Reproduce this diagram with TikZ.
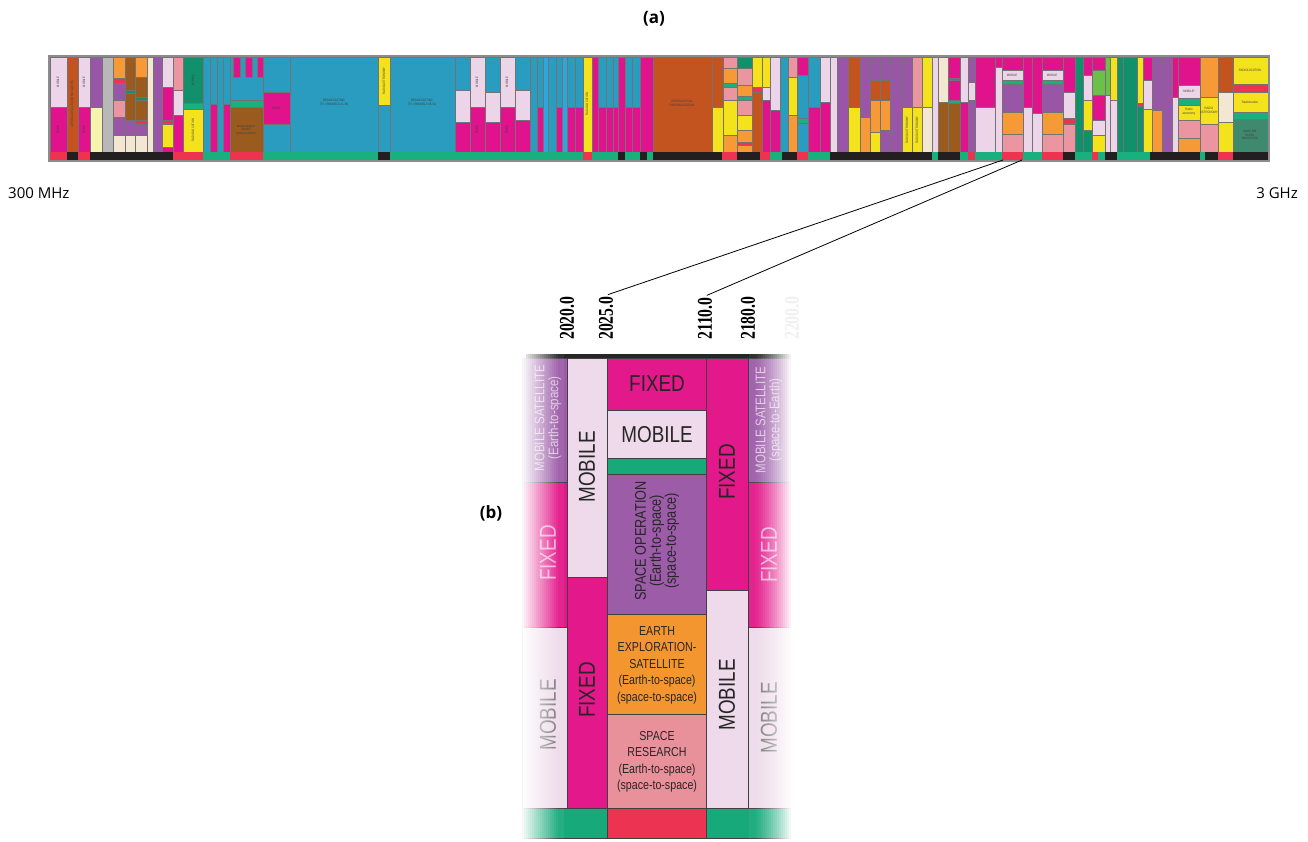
\documentclass[tikz,border=0pt]{standalone}
\usepackage{fontspec}
\setmainfont{Open Sans}
\newfontfamily\condsans[FakeStretch=0.82]{Liberation Sans}
\newfontfamily\condserif[FakeStretch=0.75]{Liberation Serif}
% band colours
\definecolor{FX}{HTML}{E0128C}
\definecolor{MB}{HTML}{ECD5E8}
\definecolor{PU}{HTML}{9A56A6}
\definecolor{TL}{HTML}{2A9CC0}
\definecolor{BL}{HTML}{2BA6DE}
\definecolor{AR}{HTML}{C4541F}
\definecolor{YL}{HTML}{F4E31C}
\definecolor{GN}{HTML}{19B07E}
\definecolor{DG}{HTML}{12906C}
\definecolor{OR}{HTML}{F59A36}
\definecolor{PK}{HTML}{EA95A0}
\definecolor{BR}{HTML}{9A5B1F}
\definecolor{BG}{HTML}{F3E7D2}
\definecolor{GY}{HTML}{B8B8B8}
\definecolor{RD}{HTML}{EE3350}
\definecolor{MG}{HTML}{3F8A6F}
\definecolor{LG}{HTML}{6CC04A}
\definecolor{LY}{HTML}{F7F2B0}
\definecolor{BK}{HTML}{231F20}
% panel b colours
\definecolor{bFX}{HTML}{E3188A}
\definecolor{bMB}{HTML}{EEDAEA}
\definecolor{bPU}{HTML}{9C5CA8}
\definecolor{bOR}{HTML}{F4962F}
\definecolor{bPK}{HTML}{E9919A}
\definecolor{bGN}{HTML}{17A97A}
\definecolor{bRD}{HTML}{EC3352}
\tikzset{
  bcell/.style={draw=black!55, line width=0.3pt},
  tin/.style={font=\condsans\fontsize{3.3}{3.8}\selectfont, text=black!75, align=center, inner sep=0pt},
  pcell/.style={draw=black!75, line width=0.7pt},
  plab/.style={font=\condsans\fontsize{23}{25}\selectfont, text=black!85, align=center, inner sep=0pt},
  pmid/.style={font=\condsans\fontsize{15.5}{15}\selectfont, text=black!85, align=center, inner sep=0pt},
  psmall/.style={font=\condsans\fontsize{13}{16.5}\selectfont, text=black!85, align=center, inner sep=0pt},
  pfaint/.style={font=\condsans\fontsize{14}{14}\selectfont, align=center, inner sep=0pt},
  freq/.style={font=\condserif\bfseries\fontsize{21}{21}\selectfont, rotate=90, anchor=west, inner sep=1pt},
  head/.style={font=\bfseries\fontsize{17}{20}\selectfont, inner sep=0pt},
  axislab/.style={font=\fontsize{15}{18}\selectfont, inner sep=0pt},
  conn/.style={draw=black, line width=0.8pt},
}
\newcommand\bc[5]{\path[bcell, fill=#1] (#2,#3) rectangle (#4,#5);}
\newcommand\bs[3]{\fill[#1] (#2,152) rectangle (#3,160);}
\begin{document}
\begin{tikzpicture}[x=1pt,y=-1pt]
\useasboundingbox (0,0) rectangle (1308,842);
\fill[white] (0,0) rectangle (1308,842);

% ---------------- panel (a): the band ----------------
\bc{MB}{50}{57}{67}{107}\bc{FX}{50}{107}{67}{152}
\bc{AR}{67}{57}{78}{152}
\bc{MB}{78}{57}{90}{107}\bc{FX}{78}{107}{90}{152}
\bc{PU}{90}{57}{102}{107}\bc{LY}{90}{107}{102}{152}
\bc{GY}{102}{57}{113}{152}
\bc{OR}{113}{57}{125}{78}\bc{RD}{113}{78}{125}{83}\bc{PU}{113}{83}{125}{100}\bc{PK}{113}{100}{125}{117}\bc{PU}{113}{117}{125}{135}\bc{BG}{113}{135}{125}{152}
\bc{BR}{125}{57}{135}{90}\bc{DG}{125}{90}{135}{93}\bc{BR}{125}{93}{135}{120}\bc{PU}{125}{120}{135}{135}\bc{BG}{125}{135}{135}{152}
\bc{OR}{135}{57}{147}{77}\bc{BR}{135}{77}{147}{97}\bc{DG}{135}{97}{147}{100}\bc{BR}{135}{100}{147}{120}\bc{RD}{135}{120}{147}{124}\bc{PU}{135}{124}{147}{135}\bc{BG}{135}{135}{147}{152}
\bc{BG}{147}{57}{153}{152}
\bc{PU}{153}{57}{162}{152}
\bc{MB}{162}{57}{173}{87}\bc{FX}{162}{87}{173}{120}\bc{RD}{162}{120}{173}{124}\bc{YL}{162}{124}{173}{147}\bc{FX}{162}{147}{173}{152}
\bc{PK}{173}{57}{183}{90}\bc{MB}{173}{90}{183}{115}\bc{FX}{173}{115}{183}{152}
\bc{DG}{183}{57}{203}{103}\bc{GN}{183}{103}{203}{109}\bc{YL}{183}{109}{203}{152}
\bc{TL}{203}{57}{210}{152}
\bc{TL}{210}{57}{217}{104}\bc{FX}{210}{104}{217}{152}
\bc{TL}{217}{57}{223}{152}
\bc{TL}{223}{57}{230}{104}\bc{FX}{223}{104}{230}{152}
\bc{TL}{230}{57}{263}{100}\bc{GN}{230}{100}{263}{107}\bc{BR}{230}{107}{263}{152}
\bc{FX}{233}{57}{240}{77}\bc{FX}{245}{57}{252}{77}\bc{FX}{257}{57}{263}{77}
\bc{TL}{263}{57}{290}{92}\bc{FX}{263}{92}{290}{124}\bc{TL}{263}{124}{290}{152}
\bc{TL}{290}{57}{378}{152}
\bc{YL}{378}{57}{390}{105}\bc{TL}{378}{105}{390}{152}
\bc{TL}{390}{57}{455}{152}
\bc{TL}{455}{57}{470}{90}\bc{MB}{455}{90}{470}{122}\bc{FX}{455}{122}{470}{152}
\bc{MB}{470}{57}{485}{107}\bc{FX}{470}{107}{485}{152}
\bc{TL}{485}{57}{500}{92}\bc{MB}{485}{92}{500}{122}\bc{FX}{485}{122}{500}{152}
\bc{MB}{500}{57}{515}{107}\bc{FX}{500}{107}{515}{152}
\bc{TL}{515}{57}{530}{90}\bc{MB}{515}{90}{530}{120}\bc{FX}{515}{120}{530}{152}
\bc{TL}{530}{57}{537}{152}
\bc{TL}{537}{57}{543}{107}\bc{FX}{537}{107}{543}{152}
\bc{BL}{543}{57}{548}{152}
\bc{TL}{548}{57}{556}{152}
\bc{TL}{556}{57}{562}{107}\bc{FX}{556}{107}{562}{152}
\bc{BL}{562}{57}{567}{152}
\bc{TL}{567}{57}{575}{107}\bc{FX}{567}{107}{575}{152}
\bc{TL}{575}{57}{583}{107}\bc{FX}{575}{107}{583}{152}
\bc{YL}{583}{57}{592}{152}
\bc{FX}{592}{57}{598}{152}
\bc{TL}{598}{57}{606}{107}\bc{FX}{598}{107}{606}{152}
\bc{TL}{606}{57}{613}{107}\bc{FX}{606}{107}{613}{152}
\bc{TL}{613}{57}{618}{107}\bc{FX}{613}{107}{618}{152}
\bc{FX}{618}{57}{625}{152}
\bc{TL}{625}{57}{632}{107}\bc{FX}{625}{107}{632}{152}
\bc{TL}{632}{57}{640}{107}\bc{FX}{632}{107}{640}{152}
\bc{FX}{640}{57}{653}{152}
\bc{AR}{653}{57}{712}{152}
\bc{AR}{712}{57}{723}{107}\bc{YL}{712}{107}{723}{152}
\bc{PK}{723}{57}{737}{68}\bc{OR}{723}{68}{737}{83}\bc{GN}{723}{83}{737}{87}\bc{PK}{723}{87}{737}{100}\bc{YL}{723}{100}{737}{135}\bc{OR}{723}{135}{737}{152}
\bc{DG}{737}{57}{752}{68}\bc{PK}{737}{68}{752}{85}\bc{OR}{737}{85}{752}{96}\bc{GN}{737}{96}{752}{100}\bc{PK}{737}{100}{752}{115}\bc{YL}{737}{115}{752}{130}\bc{OR}{737}{130}{752}{142}\bc{RD}{737}{142}{752}{145}\bc{OR}{737}{145}{752}{152}
\bc{YL}{752}{57}{762}{87}\bc{RD}{752}{87}{762}{92}\bc{AR}{752}{92}{762}{152}
\bc{YL}{762}{57}{770}{87}\bc{MB}{762}{87}{770}{100}\bc{FX}{762}{100}{770}{152}
\bc{MB}{770}{57}{780}{110}\bc{FX}{770}{110}{780}{152}
\bc{TL}{780}{57}{788}{152}
\bc{PK}{788}{57}{797}{77}\bc{YL}{788}{77}{797}{115}\bc{OR}{788}{115}{797}{152}
\bc{FX}{797}{57}{808}{75}\bc{TL}{797}{75}{808}{118}\bc{GN}{797}{118}{808}{123}\bc{TL}{797}{123}{808}{152}
\bc{TL}{808}{57}{820}{107}\bc{FX}{808}{107}{820}{152}
\bc{MB}{820}{57}{830}{102}\bc{FX}{820}{102}{830}{152}
\bc{MB}{830}{57}{837}{152}
\bc{PU}{837}{57}{848}{152}
\bc{AR}{848}{57}{860}{107}\bc{YL}{848}{107}{860}{152}
\bc{PU}{860}{57}{870}{117}\bc{OR}{860}{117}{870}{152}
\bc{PU}{870}{57}{880}{80}\bc{AR}{870}{80}{880}{100}\bc{OR}{870}{100}{880}{132}\bc{YL}{870}{132}{880}{152}
\bc{PU}{880}{57}{890}{80}\bc{AR}{880}{80}{890}{100}\bc{OR}{880}{100}{890}{130}\bc{PU}{880}{130}{890}{152}
\bc{PU}{890}{57}{902}{152}
\bc{PU}{902}{57}{912}{107}\bc{YL}{902}{107}{912}{152}
\bc{PK}{912}{57}{922}{107}\bc{YL}{912}{107}{922}{152}
\bc{YL}{922}{57}{932}{107}\bc{BG}{922}{107}{932}{152}
\bc{MB}{932}{57}{938}{152}
\bc{BG}{938}{57}{948}{102}\bc{BR}{938}{102}{948}{152}
\bc{FX}{948}{57}{960}{78}\bc{RD}{948}{78}{960}{80}\bc{FX}{948}{80}{960}{100}\bc{GN}{948}{100}{960}{103}\bc{BR}{948}{103}{960}{152}
\bc{MB}{960}{57}{968}{102}\bc{FX}{960}{102}{968}{152}
\bc{PU}{968}{57}{975}{82}\bc{MB}{968}{82}{975}{100}\bc{PU}{968}{100}{975}{152}
\bc{FX}{975}{57}{995}{107}\bc{MB}{975}{107}{995}{152}
\bc{FX}{995}{57}{1002}{67}\bc{MB}{995}{67}{1002}{152}
\bc{FX}{1002}{57}{1023}{70}\bc{MB}{1002}{70}{1023}{80}\bc{GN}{1002}{80}{1023}{84}\bc{PU}{1002}{84}{1023}{112}\bc{OR}{1002}{112}{1023}{134}\bc{PK}{1002}{134}{1023}{152}
\bc{FX}{1023}{57}{1032}{107}\bc{MB}{1023}{107}{1032}{152}
\bc{FX}{1032}{57}{1042}{113}\bc{MB}{1032}{113}{1042}{152}
\bc{FX}{1042}{57}{1063}{70}\bc{MB}{1042}{70}{1063}{80}\bc{GN}{1042}{80}{1063}{84}\bc{PU}{1042}{84}{1063}{112}\bc{OR}{1042}{112}{1063}{134}\bc{PK}{1042}{134}{1063}{152}
\bc{FX}{1063}{57}{1075}{92}\bc{MB}{1063}{92}{1075}{118}\bc{RD}{1063}{118}{1075}{124}\bc{PK}{1063}{124}{1075}{152}
\bc{DG}{1075}{57}{1083}{152}
\bc{FX}{1083}{57}{1092}{75}\bc{MB}{1083}{75}{1092}{100}\bc{YL}{1083}{100}{1092}{130}\bc{DG}{1083}{130}{1092}{152}
\bc{FX}{1092}{57}{1105}{70}\bc{LG}{1092}{70}{1105}{95}\bc{FX}{1092}{95}{1105}{120}\bc{MB}{1092}{120}{1105}{135}\bc{YL}{1092}{135}{1105}{152}
\bc{LG}{1105}{57}{1110}{95}\bc{MB}{1105}{95}{1110}{152}
\bc{YL}{1110}{57}{1117}{100}\bc{MB}{1110}{100}{1117}{152}
\bc{DG}{1117}{57}{1123}{152}
\bc{DG}{1123}{57}{1137}{152}
\bc{YL}{1137}{57}{1143}{103}\bc{RD}{1137}{103}{1143}{106}\bc{DG}{1137}{106}{1143}{152}
\bc{FX}{1143}{57}{1152}{80}\bc{MB}{1143}{80}{1152}{109}\bc{YL}{1143}{109}{1152}{152}
\bc{PU}{1152}{57}{1162}{110}\bc{OR}{1152}{110}{1162}{152}
\bc{PU}{1162}{57}{1172}{152}
\bc{FX}{1172}{57}{1178}{97}\bc{MB}{1172}{97}{1178}{152}
\bc{FX}{1178}{57}{1200}{85}\bc{MB}{1178}{85}{1200}{98}\bc{GN}{1178}{98}{1200}{105}\bc{YL}{1178}{105}{1200}{120}\bc{PK}{1178}{120}{1200}{138}\bc{OR}{1178}{138}{1200}{152}
\bc{OR}{1200}{57}{1218}{97}\bc{YL}{1200}{97}{1218}{124}\bc{PK}{1200}{124}{1218}{152}
\bc{AR}{1218}{57}{1233}{92}\bc{BG}{1218}{92}{1233}{122}\bc{YL}{1218}{122}{1233}{152}
\bc{YL}{1233}{57}{1268}{84}\bc{RD}{1233}{84}{1268}{92}\bc{YL}{1233}{92}{1268}{112}\bc{GN}{1233}{112}{1268}{119}\bc{MG}{1233}{119}{1268}{152}

% strip along the bottom of the band
\bs{RD}{50}{67}\bs{BK}{67}{78}\bs{RD}{78}{90}\bs{BK}{90}{173}\bs{RD}{173}{203}
\bs{GN}{203}{230}\bs{RD}{230}{263}\bs{GN}{263}{378}\bs{BK}{378}{390}\bs{GN}{390}{583}
\bs{RD}{583}{592}\bs{GN}{592}{618}\bs{BK}{618}{625}\bs{GN}{625}{640}\bs{BK}{640}{647}
\bs{GN}{647}{653}\bs{BK}{653}{722}\bs{RD}{722}{737}\bs{BK}{737}{760}\bs{RD}{760}{770}
\bs{GN}{770}{782}\bs{BK}{782}{797}\bs{RD}{797}{808}\bs{GN}{808}{830}\bs{BK}{830}{932}
\bs{GN}{932}{938}\bs{BK}{938}{960}\bs{GN}{960}{968}\bs{RD}{968}{975}\bs{GN}{975}{1002}
\bs{RD}{1002}{1023}\bs{GN}{1023}{1042}\bs{RD}{1042}{1063}\bs{BK}{1063}{1075}\bs{GN}{1075}{1092}
\bs{RD}{1092}{1098}\bs{GN}{1098}{1105}\bs{BK}{1105}{1117}\bs{GN}{1117}{1150}\bs{BK}{1150}{1200}
\bs{GN}{1200}{1205}\bs{BK}{1205}{1218}\bs{RD}{1218}{1233}\bs{BK}{1233}{1268}
\draw[black!45, line width=1.5pt] (49,56) rectangle (1269,161);

% tiny labels inside the band
\node[tin, rotate=90] (t1) at (58,82) {MOBILE};
\node[tin, rotate=90] (t2) at (58,130) {FIXED};
\node[tin, rotate=90] (t3) at (72,104) {AERONAUTICAL RADIONAVIGATION};
\node[tin, rotate=90] (t4) at (84,82) {MOBILE};
\node[tin, rotate=90] (t5) at (84,130) {FIXED};
\node[tin, rotate=90] (t6) at (193,130) {RADIOLOCATION};
\node[tin, rotate=90] (t7) at (193,80) {MOBILE};
\node[tin] (t8) at (246,130) {Meteorological\\Satellite\\(space-to-Earth)};
\node[tin] (t9) at (276,108) {FIXED};
\node[tin] (t10) at (334,103) {BROADCASTING\\(TV CHANNELS 21-36)};
\node[tin, rotate=90] (t11) at (384,81) {RADIO ASTRONOMY};
\node[tin] (t12) at (422,103) {BROADCASTING\\(TV CHANNELS 38-51)};
\node[tin, rotate=90] (t13) at (477,82) {MOBILE};
\node[tin, rotate=90] (t14) at (477,130) {FIXED};
\node[tin, rotate=90] (t15) at (507,82) {MOBILE};
\node[tin, rotate=90] (t16) at (507,130) {FIXED};
\node[tin, rotate=90] (t17) at (587,104) {RADIOLOCATION};
\node[tin] (t18) at (682,103) {AERONAUTICAL\\RADIONAVIGATION};
\node[tin, rotate=90] (t19) at (907,130) {RADIO ASTRONOMY};
\node[tin, rotate=90] (t20) at (917,130) {RADIO ASTRONOMY};
\node[tin] (t21) at (1012,75) {MOBILE};
\node[tin] (t22) at (1052,75) {MOBILE};
\node[tin] (t23) at (1189,91) {MOBILE*};
\node[tin] (t24) at (1189,112) {Radio\\astronomy};
\node[tin] (t25) at (1209,110) {RADIO\\ASTRONOMY};
\node[tin] (t26) at (1250,70) {RADIOLOCATION};
\node[tin] (t27) at (1250,102) {Radiolocation};
\node[tin] (t28) at (1250,135) {MARITIME\\RADIO-\\NAVIGATION};

% headings and axis labels
\node[head] (ha) at (654,19) {(a)};
\node[axislab, anchor=west] (lo) at (8,193) {300 MHz};
\node[axislab, anchor=east] (hi) at (1298,193) {3 GHz};
\node[head] (hb) at (491,513) {(b)};

% ---------------- panel (b): enlarged detail ----------------
\fill[black!85] (526,354) rectangle (794,358);
% left faded column
\path[pcell, fill=bPU] (522,358) rectangle (567,482);
\path[pcell, fill=bFX] (522,482) rectangle (567,627);
\path[pcell, fill=bMB] (522,627) rectangle (567,808);
% 2020-2025
\path[pcell, fill=bMB] (567,358) rectangle (607,577);
\path[pcell, fill=bFX] (567,577) rectangle (607,808);
% 2025-2110
\path[pcell, fill=bFX] (607,358) rectangle (706,410);
\path[pcell, fill=bMB] (607,410) rectangle (706,458);
\path[pcell, fill=bGN] (607,458) rectangle (706,474);
\path[pcell, fill=bPU] (607,474) rectangle (706,614);
\path[pcell, fill=bOR] (607,614) rectangle (706,714);
\path[pcell, fill=bPK] (607,714) rectangle (706,808);
% 2110-2180
\path[pcell, fill=bFX] (706,358) rectangle (748,590);
\path[pcell, fill=bMB] (706,590) rectangle (748,808);
% right faded column
\path[pcell, fill=bPU] (748,358) rectangle (796,482);
\path[pcell, fill=bFX] (748,482) rectangle (796,627);
\path[pcell, fill=bMB] (748,627) rectangle (796,808);
% bottom strip
\path[pcell, fill=bGN] (522,808) rectangle (607,838);
\path[pcell, fill=bRD] (607,808) rectangle (706,838);
\path[pcell, fill=bGN] (706,808) rectangle (796,838);

% labels in panel (b)
\node[plab] (bfix1) at (657,384) {FIXED};
\node[plab] (bmob1) at (657,435) {MOBILE};
\node[pmid, rotate=90] (bso) at (657,541) {SPACE OPERATION\\(Earth-to-space)\\(space-to-space)};
\node[psmall] (bees) at (657,665) {EARTH\\EXPLORATION-\\SATELLITE\\(Earth-to-space)\\(space-to-space)};
\node[psmall] (bsr) at (657,762) {SPACE\\RESEARCH\\(Earth-to-space)\\(space-to-space)};
\node[plab, rotate=90] (bmob2) at (587,467) {MOBILE};
\node[plab, rotate=90] (bfix2) at (587,690) {FIXED};
\node[plab, rotate=90] (bfix3) at (727,472) {FIXED};
\node[plab, rotate=90] (bmob3) at (727,695) {MOBILE};
\node[pfaint, rotate=90, text=white!65!bPU] (lms) at (548,418) {MOBILE SATELLITE\\(Earth-to-space)};
\node[plab, rotate=90, text=white!62!bFX] (lfx) at (548,553) {FIXED};
\node[plab, rotate=90, text=black!55] (lmb) at (548,715) {MOBILE};
\node[pfaint, rotate=90, text=white!65!bPU] (rms) at (769,420) {MOBILE SATELLITE\\(space-to-Earth)};
\node[plab, rotate=90, text=white!62!bFX] (rfx) at (769,555) {FIXED};
\node[plab, rotate=90, text=black!55] (rmb) at (769,718) {MOBILE};

% fading of the outer columns (white veils of falling / rising opacity)
\foreach \i in {0,...,21}{
  \pgfmathsetmacro{\op}{max(0.06, 1-\i/20)}
  \fill[white, opacity=\op] ({520+2*\i},350) rectangle ({522+2*\i},842);
}
\foreach \i in {0,...,23}{
  \pgfmathsetmacro{\op}{min(1, max(0.05, (\i/21)^1.4))}
  \fill[white, opacity=\op] ({749+2*\i},350) rectangle ({751+2*\i},842);
}
\fill[white] (797,350) rectangle (812,842);

% frequency labels
\node[freq] (f2020) at (567,341) {2020.0};
\node[freq] (f2025) at (606,341) {2025.0};
\node[freq] (f2110) at (705,341) {2110.0};
\node[freq] (f2180) at (748,341) {2180.0};
\node[freq, text=black!6] (f2200) at (792,341) {2200.0};

% zoom connectors
\coordinate (z1) at (1003,160);
\coordinate (z2) at (1022,160);
\draw[conn, shorten <=2pt] (f2025.east) -- (z1);
\draw[conn, shorten <=2pt] (f2110.east) -- (z2);
\end{tikzpicture}
\end{document}
